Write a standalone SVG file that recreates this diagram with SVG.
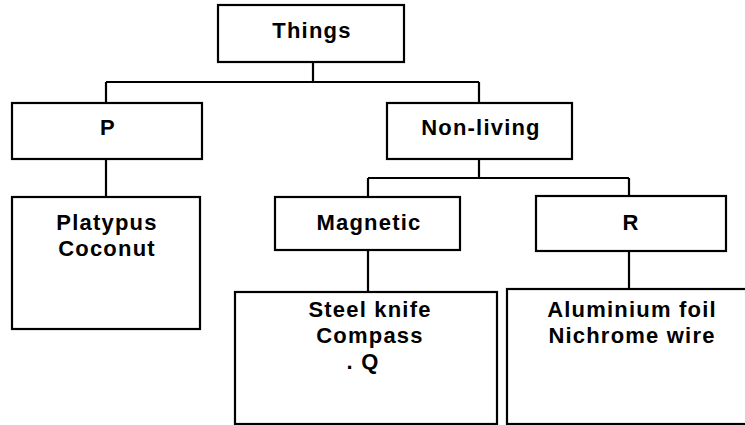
<svg xmlns="http://www.w3.org/2000/svg" width="745" height="425" viewBox="0 0 745 425">
<style>
.box{fill:#fff;stroke:#000;stroke-width:2.2}
.ln{fill:none;stroke:#000;stroke-width:2.2}
text{font-family:"Liberation Sans",Arial,sans-serif;font-weight:bold;font-size:22px;letter-spacing:1.2px;fill:#000;text-anchor:middle}
</style>
<rect width="745" height="425" fill="#fff"/>
<g id="connectors">
<path class="ln" d="M313 62V82M106 82H479M106 82V103M479 82V103"/>
<path class="ln" d="M106 159V197"/>
<path class="ln" d="M479 159V178M368 178H629M368 178V197M629 178V196"/>
<path class="ln" d="M368 250V292M629 251V289"/>
</g>
<g id="things"><rect class="box" x="218" y="5" width="186" height="57"/><text x="312" y="38">Things</text></g>
<g id="p"><rect class="box" x="12" y="103" width="190" height="56"/><text x="108" y="135">P</text></g>
<g id="nonliving"><rect class="box" x="387" y="103" width="185" height="56"/><text x="481" y="135">Non-living</text></g>
<g id="p-items"><rect class="box" x="12" y="197" width="188" height="132"/><text x="107" y="230">Platypus</text><text x="107" y="256">Coconut</text></g>
<g id="magnetic"><rect class="box" x="275" y="197" width="185" height="53"/><text x="369" y="230">Magnetic</text></g>
<g id="r"><rect class="box" x="536" y="196" width="190" height="55"/><text x="631" y="230">R</text></g>
<g id="magnetic-items"><rect class="box" x="235" y="292" width="262" height="132"/><text x="370" y="317">Steel knife</text><text x="370" y="343">Compass</text><text x="363" y="369">. Q</text></g>
<g id="r-items"><rect class="box" x="507" y="289" width="245" height="135"/><text x="632" y="317">Aluminium foil</text><text x="632" y="343">Nichrome wire</text></g>
</svg>
